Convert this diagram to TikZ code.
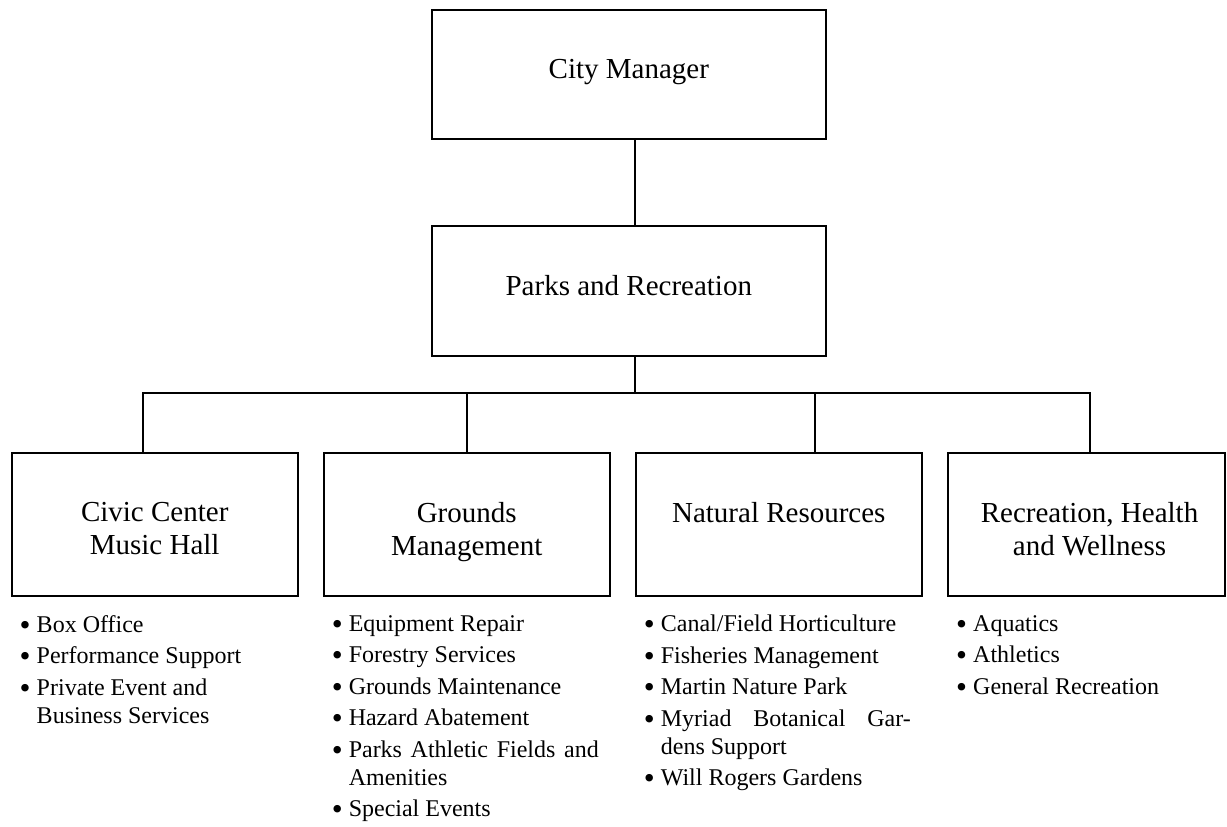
\documentclass[tikz,border=0pt]{standalone}
\usepackage{fontspec}
\setmainfont{Liberation Serif}
\usetikzlibrary{positioning}

\tikzset{
  unit/.style={draw, line width=2pt, inner sep=0pt},
  topunit/.style={unit, minimum width=394pt, minimum height=129.5pt},
  subunit/.style={unit, minimum width=286.3pt, minimum height=142.7pt},
  unitname/.style={inner sep=0pt, align=center, font=\fontsize{29}{33}\selectfont},
  duties/.style={inner sep=0pt, align=left, anchor=north west, font=\fontsize{24}{28}\selectfont},
  wire/.style={line width=2pt, line join=miter},
}
\newcommand{\duty}[1]{\makebox[17pt][l]{\raisebox{-3pt}{\scalebox{1.3}{\textbullet}}}#1}
\newcommand{\dutycont}[1]{\hspace*{17pt}#1}

\begin{document}
\begin{tikzpicture}[x=1pt, y=1pt]
  \useasboundingbox (0,0) rectangle (1227,-827);

  % the two upper boxes
  \node[topunit] (city) at (628.8,-74.7) {};
  \node[unitname, below=50pt of city.north] (citylbl) {City Manager};
  \node[topunit] (parks) at (628.8,-291) {};
  \node[unitname, below=50pt of parks.north] (parkslbl) {Parks and Recreation};

  % the four divisions
  \node[subunit] (civic) at (154.7,-524.7) {};
  \node[subunit] (grounds) at (466.7,-524.7) {};
  \node[subunit] (natural) at (778.8,-524.7) {};
  \node[subunit, minimum width=277pt] (rhw) at (1086.5,-524.7) {};
  \node[unitname, below=50pt of civic.north] (civiclbl) {Civic Center\\Music Hall};
  \node[unitname, below=50pt of grounds.north] (groundslbl) {Grounds\\Management};
  \node[unitname, below=50pt of natural.north] (naturallbl) {Natural Resources};
  \node[unitname, below=50pt of rhw.north, xshift=3pt] (rhwlbl) {Recreation, Health\\and Wellness};

  % connectors
  \coordinate (trunk) at (635,-392.7);
  \coordinate (tap1) at (142.7,-392.7);
  \coordinate (tap2) at (466.7,-392.7);
  \coordinate (tap3) at (815,-392.7);
  \coordinate (tap4) at (1090.3,-392.7);
  \draw[wire] (city.south -| trunk) -- (parks.north -| trunk);
  \draw[wire] (parks.south -| trunk) -- (trunk);
  \draw[wire] (civic.north -| tap1) -- (tap1) -- (tap4) -- (rhw.north -| tap4);
  \foreach \t/\u in {tap2/grounds, tap3/natural}
    \draw[wire] (\t) -- (\u.north -| \t);

  % duties under each division
  \node[duties] (civicduties) at ([xshift=9pt,yshift=-18pt]civic.south west)
    {\duty{Box Office}\\[3.5pt]\duty{Performance Support}\\[3.5pt]\duty{Private Event and}\\\dutycont{Business Services}};
  \node[duties] (groundsduties) at ([xshift=9pt,yshift=-18pt]grounds.south west)
    {\duty{Equipment Repair}\\[3.5pt]\duty{Forestry Services}\\[3.5pt]\duty{Grounds Maintenance}\\[3.5pt]\duty{Hazard Abatement}\\[3.5pt]\duty{\makebox[250pt][s]{Parks Athletic Fields and}}\\\dutycont{Amenities}\\[3.5pt]\duty{Special Events}};
  \node[duties] (naturalduties) at ([xshift=9pt,yshift=-18pt]natural.south west)
    {\duty{Canal/Field Horticulture}\\[3.5pt]\duty{Fisheries Management}\\[3.5pt]\duty{Martin Nature Park}\\[3.5pt]\duty{\makebox[250pt][s]{Myriad Botanical Gar-}}\\\dutycont{dens Support}\\[3.5pt]\duty{Will Rogers Gardens}};
  \node[duties] (rhwduties) at ([xshift=9pt,yshift=-18pt]rhw.south west)
    {\duty{Aquatics}\\[3.5pt]\duty{Athletics}\\[3.5pt]\duty{General Recreation}};
\end{tikzpicture}
\end{document}
